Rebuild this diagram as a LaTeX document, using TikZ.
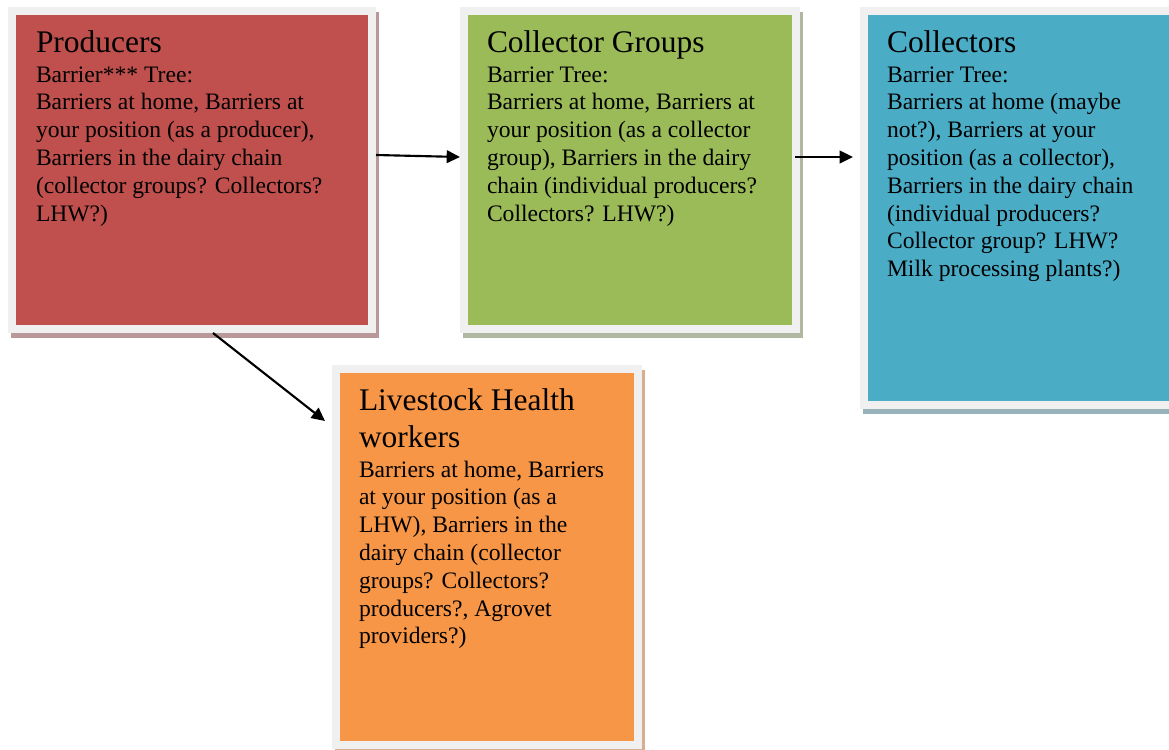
\documentclass[tikz,border=0pt]{standalone}
\usepackage{fontspec}
\setmainfont{Liberation Serif}
\usetikzlibrary{arrows.meta,shadows}
\definecolor{frm}{HTML}{F0F0F0}
\definecolor{cred}{HTML}{C0504D}
\definecolor{cgreen}{HTML}{9BBB59}
\definecolor{cblue}{HTML}{4BACC6}
\definecolor{corange}{HTML}{F79646}
\definecolor{sred}{HTML}{B89899}
\definecolor{sgreen}{HTML}{B0B8A2}
\definecolor{sblue}{HTML}{98B2BA}
\definecolor{sorange}{HTML}{D8AE90}
\newcommand\ttlfont{\fontsize{23.6}{27.75}\selectfont}
\newcommand\bdyfont{\fontsize{17.7}{20.85}\selectfont}
\newcommand\toplines[1]{\parbox[t]{230pt}{\raggedright #1}}
\tikzset{
  box/.style 2 args={rectangle, fill=frm, draw=none, outer sep=0pt, inner sep=0pt, anchor=north west,
    drop shadow={shadow xshift=2.25pt, shadow yshift=-3.75pt, fill=#2, opacity=1},
    path picture={\fill[#1] ([shift={(6pt,-6pt)}]path picture bounding box.north west) rectangle ([shift={(-6pt,6pt)}]path picture bounding box.south east);}},
  ttl/.style={anchor=base west, inner sep=0pt, outer sep=0pt, font=\ttlfont},
  bdy/.style={anchor=base west, inner sep=0pt, outer sep=0pt, font=\bdyfont},
  arr/.style={-{Triangle[length=10pt,width=9.5pt]}, line width=1.6pt, black},
}
\begin{document}
\begin{tikzpicture}[x=0.75pt,y=-0.75pt]
\useasboundingbox (0,0) rectangle (1169,749);
\clip (0,0) rectangle (1169,749);
\node[box={cred}{sred}, minimum width=276pt, minimum height=244.5pt] (prod) at (8,7) {};
\node[box={cgreen}{sgreen}, minimum width=255pt, minimum height=244.5pt] (cg) at (460,7) {};
\node[box={cblue}{sblue}, minimum width=255pt, minimum height=301.5pt] (col) at (860,7) {};
\node[box={corange}{sorange}, minimum width=232.5pt, minimum height=288pt] (lhw) at (332,365) {};

\node[ttl] (prodt) at (36,53) {Producers};
\node[bdy] (prodb) at (36,82) {\toplines{Barrier*** Tree:\\Barriers at home, Barriers at\\your position (as a producer),\\Barriers in the dairy chain\\(collector groups? Collectors?\\LHW?)}};

\node[ttl] (cgt) at (487,53) {Collector Groups};
\node[bdy] (cgb) at (487,82) {\toplines{Barrier Tree:\\Barriers at home, Barriers at\\your position (as a collector\\group), Barriers in the dairy\\chain (individual producers?\\Collectors? LHW?)}};

\node[ttl] (colt) at (887,53) {Collectors};
\node[bdy] (colb) at (887,82) {\toplines{Barrier Tree:\\Barriers at home (maybe\\not?), Barriers at your\\position (as a collector),\\Barriers in the dairy chain\\(individual producers?\\Collector group? LHW?\\Milk processing plants?)}};

\node[ttl] (lhwt) at (359,410) {\toplines{Livestock Health\\workers}};
\node[bdy] (lhwb) at (359,477) {\toplines{Barriers at home, Barriers\\at your position (as a\\LHW), Barriers in the\\dairy chain (collector\\groups? Collectors?\\producers?, Agrovet\\providers?)}};

\draw[arr] ([yshift=11.25pt]prod.east) -- ([yshift=9.75pt]cg.west);
\draw[arr] ([xshift=-3.75pt,yshift=9.75pt]cg.east) -- ([xshift=-5.25pt,yshift=38.25pt]col.west);
\draw[arr] ([xshift=15.75pt]prod.south) -- ([xshift=-5.25pt,yshift=-42pt]lhw.north west);
\end{tikzpicture}
\end{document}
